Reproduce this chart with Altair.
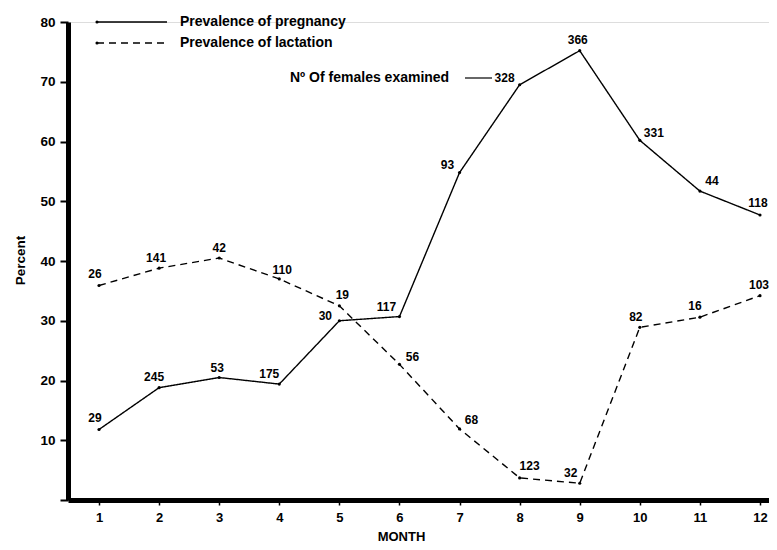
import altair as alt
import pandas as pd

# ---- data ----
months = list(range(1, 13))
pregnancy = [11.8, 18.8, 20.5, 19.4, 30.0, 30.7, 54.8, 69.5, 75.2, 60.2, 51.7, 47.7]
lactation = [35.9, 38.8, 40.5, 37.0, 32.5, 22.7, 11.9, 3.7, 2.8, 28.9, 30.6, 34.2]
preg_n = [29, 245, 53, 175, 30, 117, 93, 328, 366, 331, 44, 118]
lact_n = [26, 141, 42, 110, 19, 56, 68, 123, 32, 82, 16, 103]
series = ["Prevalence of pregnancy", "Prevalence of lactation"]
y_ticks = [0, 10, 20, 30, 40, 50, 60, 70, 80]
annotation = "Nº Of females examined"

# label placement (pixel offsets from each point)
preg_dx = [-4, -5, -2, -10, -14, -13, -12, -15, -2, 14, 12, -2]
preg_dy = [-11, -11, -10, -10, -5, -10, -8, -7, -11, -7, -10, -12]
lact_dx = [-4, -3, 0, 3, 3, 13, 12, 10, -9, -4, -5, -1]
lact_dy = [-11, -10, -10, -9, -11, -7, -9, -12, -10, -10, -11, -11]

# ---- geometry ----
W, H = 701, 478
X_DOM = [0.484, 0.484 + W / 60.09]
Y_DOM = [0, 80]
PX_X = W / (X_DOM[1] - X_DOM[0])
PX_Y = H / (Y_DOM[1] - Y_DOM[0])
FONT = "Liberation Sans"

rows = []
for s, vals, ns, dxs, dys in [
    (series[0], pregnancy, preg_n, preg_dx, preg_dy),
    (series[1], lactation, lact_n, lact_dx, lact_dy),
]:
    for m, v, n, dx, dy in zip(months, vals, ns, dxs, dys):
        rows.append({"month": m, "pct": v, "series": s, "n": str(n),
                     "lx": m + dx / PX_X, "ly": v - dy / PX_Y})
df = pd.DataFrame(rows)

xs = alt.Scale(domain=X_DOM, nice=False, zero=False)
ys = alt.Scale(domain=Y_DOM, nice=False)
dash = alt.Scale(domain=series, range=[[1, 0], [7, 5]])

x_axis = alt.Axis(values=months, format="d", tickSize=5, tickWidth=1.5,
                  tickColor="black", domainWidth=5, domainColor="black",
                  labelFont=FONT, labelFontSize=13, labelFontWeight="bold",
                  labelColor="black", labelPadding=6, grid=False,
                  title="MONTH", titleFont=FONT, titleFontSize=13,
                  titleFontWeight="bold", titleColor="black",
                  titleX=333, titleY=40, titleBaseline="alphabetic")
y_axis = alt.Axis(values=y_ticks, tickSize=8, tickWidth=2, tickColor="black",
                  domainWidth=5, domainColor="black",
                  labelExpr="datum.value == 0 ? '' : datum.label",
                  labelFont=FONT, labelFontSize=13.5, labelFontWeight="bold",
                  labelColor="black", labelPadding=5, grid=False,
                  title="Percent", titleFont=FONT, titleFontSize=13.5,
                  titleFontWeight="bold", titleColor="black",
                  titleX=-44, titleY=238, titleBaseline="alphabetic")

base = alt.Chart(df)

lines = base.mark_line(color="black", strokeWidth=1.4).encode(
    x=alt.X("month:Q", scale=xs, axis=x_axis),
    y=alt.Y("pct:Q", scale=ys, axis=y_axis),
    strokeDash=alt.StrokeDash("series:N", scale=dash, legend=None),
    detail="series:N",
)
points = base.mark_circle(color="black", size=10, opacity=1).encode(
    x=alt.X("month:Q", scale=xs), y=alt.Y("pct:Q", scale=ys)
)
labels = base.mark_text(font=FONT, fontSize=12, fontWeight="bold",
                        color="black", align="center", baseline="middle").encode(
    x=alt.X("lx:Q", scale=xs), y=alt.Y("ly:Q", scale=ys), text="n:N"
)

leg_df = pd.DataFrame({"series": series, "row": [0, 1]})
legend_layers = []
for i, s in enumerate(series):
    src = alt.Chart(leg_df).transform_filter(alt.datum.row == i)
    yv = 0 + 21 * i
    legend_layers.append(
        src.mark_rule(color="black", strokeWidth=1.4,
                      strokeDash=[1, 0] if i == 0 else [7, 5]).encode(
            x=alt.value(29), x2=alt.value(99), y=alt.value(yv))
    )
    legend_layers.append(
        src.mark_circle(color="black", size=10, opacity=1).encode(
            x=alt.value(29), y=alt.value(yv))
    )
    legend_layers.append(
        src.mark_text(font=FONT, fontSize=14, fontWeight="bold", color="black",
                      align="left", baseline="middle").encode(
            x=alt.value(112), y=alt.value(yv), text="series:N")
    )

ann_df = pd.DataFrame({"label": [annotation]})
ann_text = alt.Chart(ann_df).mark_text(font=FONT, fontSize=14, fontWeight="bold",
                                       color="black", align="left",
                                       baseline="middle").encode(
    x=alt.value(222), y=alt.value(56), text="label:N")
ann_rule = alt.Chart(ann_df).mark_rule(color="black", strokeWidth=1.2).encode(
    x=alt.value(397), x2=alt.value(424), y=alt.value(56))

chart = alt.layer(lines, points, labels, *legend_layers, ann_text, ann_rule).properties(
    width=W, height=H,
    autosize=alt.AutoSizeParams(type="none"),
    padding={"left": 60, "top": 14, "right": 0, "bottom": 42},
).configure_view(stroke=None).configure(background="white")

chart.save("out.html", embed_options={"renderer": "svg", "actions": False})
